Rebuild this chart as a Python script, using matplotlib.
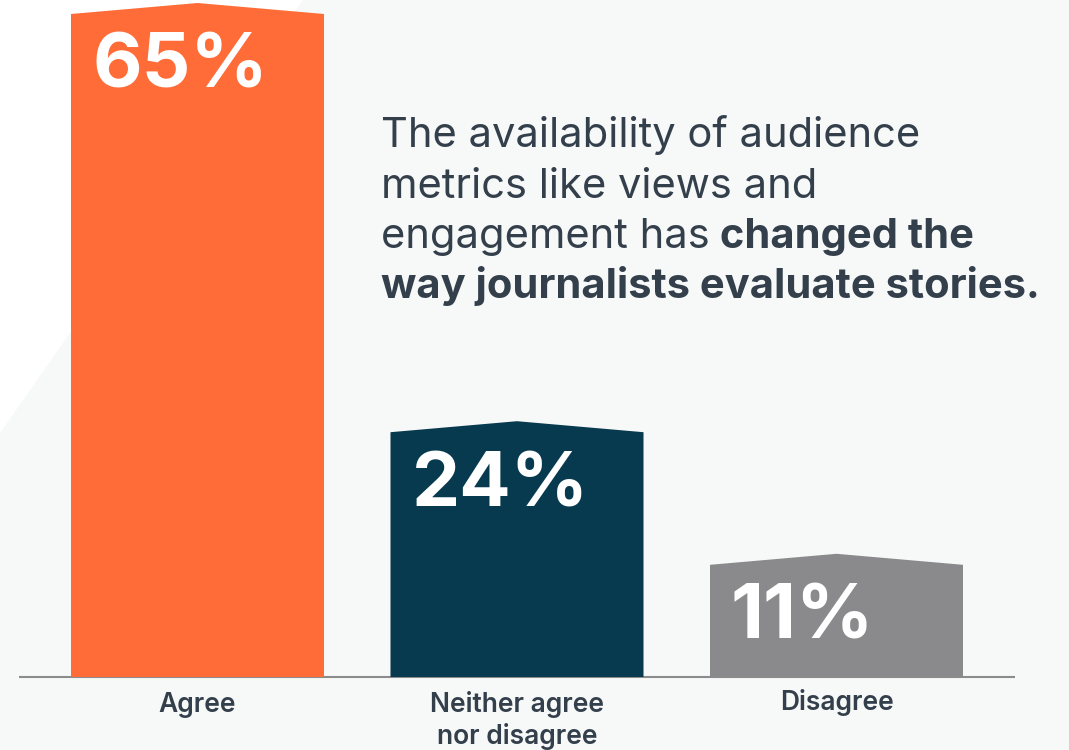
import matplotlib
matplotlib.use('Agg')
import matplotlib.pyplot as plt
from matplotlib.patches import Polygon

# data
CATEGORIES = ['Agree', 'Neither agree\nnor disagree', 'Disagree']
VALUES     = [65, 24, 11]
LABELS     = ['65%', '24%', '11%']
COLORS     = ['#FF6C37', '#073A4E', '#8A8A8C']

TITLE_LINES = ['The availability of audience', 'metrics like views and']
TITLE_MIX   = ('engagement has', ' changed the')
TITLE_BOLD  = 'way journalists evaluate stories.'

TEXT_COLOR = '#333F4B'
BG_COLOR   = '#F7F8F8'
FONT       = ['Inter', 'DejaVu Sans']

W, H = 1069, 750
PX_PER_UNIT = 10.2      # vertical pixels per percent
X_STEP      = 319.5     # horizontal pixels per category
BASE_PX     = 677       # baseline, pixels from the top
BAR_W       = 253 / X_STEP
ROOF        = 11 / PX_PER_UNIT

plt.rcParams['font.family'] = FONT

fig = plt.figure(figsize=(W / 100, H / 100), dpi=100)
fig.patch.set_facecolor(BG_COLOR)
ax = fig.add_axes([0, 0, 1, 1])
ax.set_facecolor('none')
ax.axis('off')

x0 = -197.5 / X_STEP
ax.set_xlim(x0, x0 + W / X_STEP)
ax.set_ylim(-(H - BASE_PX) / PX_PER_UNIT, BASE_PX / PX_PER_UNIT)

# white corner of the background
ax.add_patch(Polygon([(0, 1), (303 / W, 1), (0, 1 - 433 / H)], closed=True,
                     transform=ax.transAxes, facecolor='white', edgecolor='none', zorder=0))

# baseline
ax.plot([(19 - 197.5) / X_STEP, (1015 - 197.5) / X_STEP], [0, 0],
        color='#8C8C8C', lw=1.5, zorder=1, solid_capstyle='butt')

xs = range(len(VALUES))
for i in xs:
    v = VALUES[i]
    l, r = i - BAR_W / 2, i + BAR_W / 2
    # bar with a shallow peaked roof
    ax.add_patch(Polygon([(l, 0), (l, v), (i, v + ROOF), (r, v), (r, 0)], closed=True,
                         facecolor=COLORS[i], edgecolor='none', zorder=2))
    ax.annotate(LABELS[i], xy=(l, v), xytext=(21, -74), textcoords='offset pixels',
                ha='left', va='baseline', color='white', fontsize=55,
                fontweight='bold', zorder=3)

label_offsets = [-15, -14, -12]
for i in xs:
    ax.annotate(CATEGORIES[i], xy=(i, 0), xytext=(0, label_offsets[i]),
                textcoords='offset pixels', ha='center', va='top',
                color=TEXT_COLOR, fontsize=19, fontweight='semibold',
                linespacing=1.25)

# statement text
tx = 381 / W
baselines = [147 + 50.5 * k for k in range(4)]
for k, line in enumerate(TITLE_LINES):
    fig.text(tx, 1 - baselines[k] / H, line, ha='left', va='baseline',
             fontsize=30, color=TEXT_COLOR)
t3 = fig.text(tx, 1 - baselines[2] / H, TITLE_MIX[0], ha='left', va='baseline',
              fontsize=30, color=TEXT_COLOR)
ax.annotate(TITLE_MIX[1], xy=(1, 1 - baselines[2] / H),
            xycoords=(t3, 'figure fraction'), ha='left', va='baseline',
            fontsize=30, fontweight='bold', color=TEXT_COLOR, annotation_clip=False)
fig.text(tx, 1 - baselines[3] / H, TITLE_BOLD, ha='left', va='baseline',
         fontsize=30, fontweight='bold', color=TEXT_COLOR)

fig.savefig('out.png', dpi=100, facecolor=fig.get_facecolor())
